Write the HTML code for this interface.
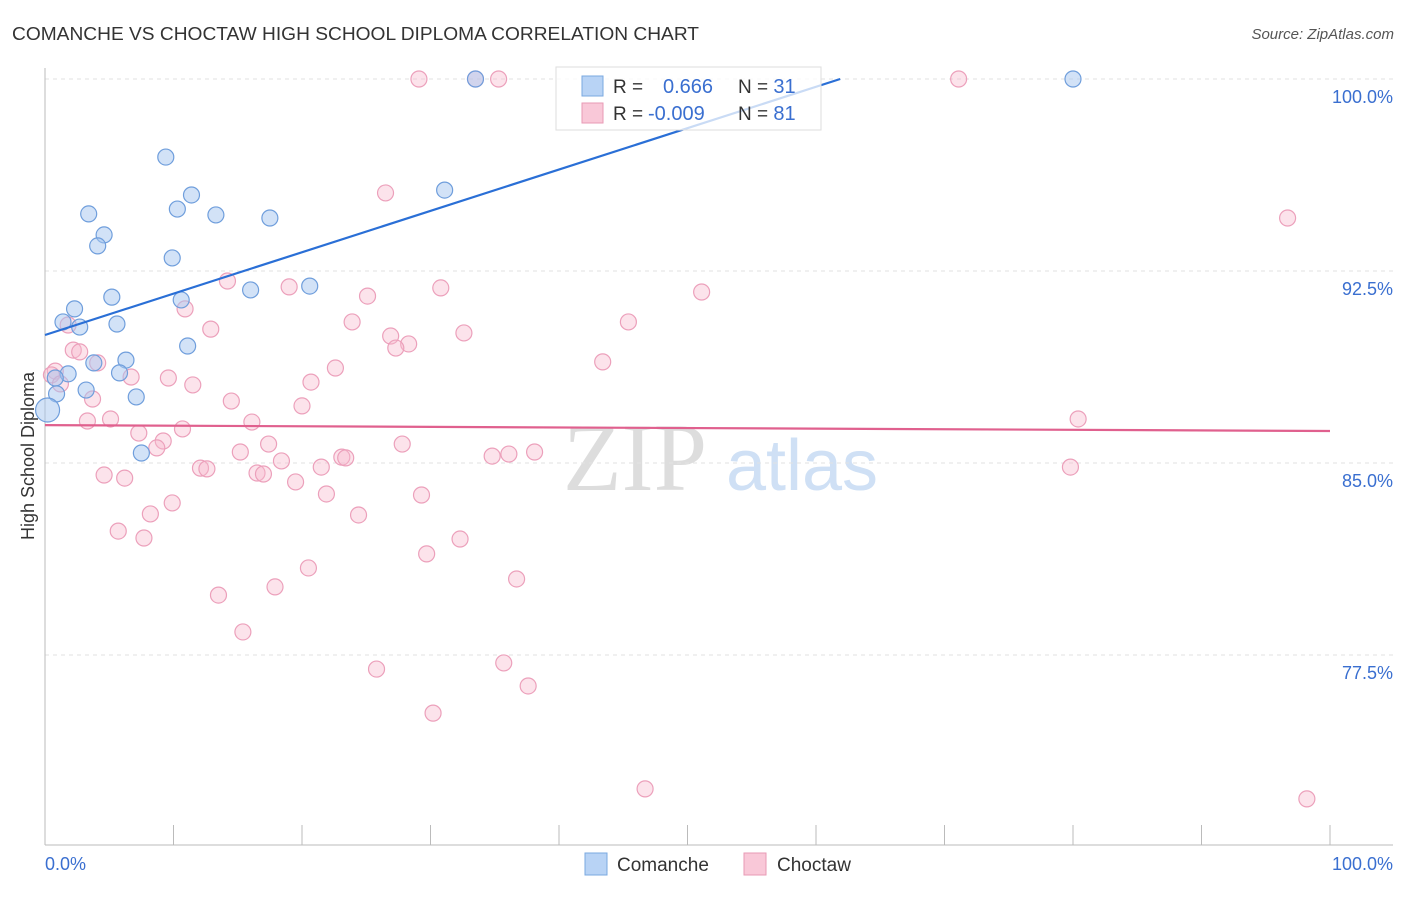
<!DOCTYPE html>
<html><head><meta charset="utf-8"><style>
body{margin:0;background:#fff;font-family:"Liberation Sans",sans-serif;}
</style></head><body>
<svg width="1406" height="892" xmlns="http://www.w3.org/2000/svg" id="chart">
<text x="12" y="40" font-size="18" fill="#333" textLength="687" lengthAdjust="spacingAndGlyphs">COMANCHE VS CHOCTAW HIGH SCHOOL DIPLOMA CORRELATION CHART</text>
<text x="1394" y="39" font-size="15" fill="#555" font-style="italic" text-anchor="end">Source: ZipAtlas.com</text>
<text x="635" y="490" font-size="96" fill="#ddd" font-family="Liberation Serif,serif" text-anchor="middle">ZIP</text>
<text x="802" y="490" font-size="72" fill="#cfe0f5" text-anchor="middle">atlas</text>
<text transform="translate(34,456) rotate(-90)" font-size="18" fill="#333" text-anchor="middle">High School Diploma</text>
<g id="grid"></g><g id="axes"></g><g id="marks"></g>
<g>
<rect x="556" y="67" width="265" height="63" fill="#fff" fill-opacity="0.75" stroke="#ddd"/>
<rect x="582" y="76" width="21" height="20" fill="#b8d3f5" stroke="#7aa8e0"/>
<rect x="582" y="103" width="21" height="20" fill="#f9c8d8" stroke="#e89ab5"/>
<text x="613" y="93" font-size="19" fill="#333">R =</text>
<text x="663" y="93" font-size="20" fill="#3a6fd0">0.666</text>
<text x="738" y="93" font-size="19" fill="#333">N = <tspan fill="#3a6fd0" font-size="20">31</tspan></text>
<text x="613" y="120" font-size="19" fill="#333">R =</text>
<text x="648" y="120" font-size="20" fill="#3a6fd0">-0.009</text>
<text x="738" y="120" font-size="19" fill="#333">N = <tspan fill="#3a6fd0" font-size="20">81</tspan></text>
</g>
<g>
<rect x="585" y="853" width="22" height="22" fill="#b8d3f5" stroke="#7aa8e0"/>
<text x="617" y="871" font-size="19" fill="#333">Comanche</text>
<rect x="744" y="853" width="22" height="22" fill="#f9c8d8" stroke="#e89ab5"/>
<text x="777" y="871" font-size="19" fill="#333">Choctaw</text>
</g>
</svg>
<script>
const yTicks=[100,92.5,85,77.5];
const yTickLabels=["100.0%","92.5%","85.0%","77.5%"];
const xTickLabels=["0.0%","100.0%"];
const comancheX=[33.5,80.0,9.4,11.4,31.1,10.3,3.4,13.3,17.5,4.6,4.1,9.9,16.0,20.6,5.2,10.6,2.3,1.4,2.7,5.6,11.1,6.3,3.8,5.8,1.8,0.8,3.2,0.9,7.1,7.5,0.2];
const comancheY=[100,100,96.95,95.47,95.66,94.92,94.73,94.69,94.57,93.91,93.48,93.01,91.76,91.91,91.48,91.37,91.02,90.51,90.31,90.43,89.57,89.02,88.91,88.52,88.48,88.32,87.85,87.70,87.58,85.39,87.07];
const choctawX=[29.1,35.3,33.5,71.1,26.5,96.7,14.2,19.0,25.1,30.8,51.1,10.9,23.9,45.4,12.9,26.9,32.6,28.3,27.3,1.8,2.2,2.7,4.1,43.4,22.6,0.8,0.5,6.7,9.6,20.7,11.5,1.2,3.7,14.5,20.0,3.3,5.1,16.1,80.4,7.3,10.7,9.2,8.7,17.4,27.8,15.2,23.1,23.4,38.1,36.1,34.8,18.4,21.5,12.1,12.6,16.5,17.0,4.6,6.2,19.5,79.8,21.9,29.3,9.9,8.2,24.4,5.7,7.7,32.3,29.7,20.5,36.7,17.9,13.5,15.4,25.8,35.7,37.6,30.2,46.7,98.2];
const choctawY=[100,100,100,100,95.55,94.57,92.11,91.88,91.52,91.84,91.68,91.02,90.51,90.51,90.23,89.96,90.08,89.65,89.49,90.39,89.41,89.34,88.91,88.95,88.71,88.59,88.44,88.36,88.32,88.16,88.05,88.09,87.50,87.42,87.23,86.64,86.72,86.60,86.72,86.17,86.33,85.86,85.59,85.74,85.74,85.43,85.23,85.20,85.43,85.35,85.27,85.08,84.84,84.80,84.77,84.61,84.57,84.53,84.41,84.26,84.84,83.79,83.75,83.44,83.01,82.97,82.34,82.07,82.03,81.45,80.90,80.47,80.16,79.84,78.40,76.95,77.19,76.29,75.23,72.27,71.88];
const comancheTrend=[90.0,0.1616];
const choctawTrend=[86.48,86.25];
const NS="http://www.w3.org/2000/svg";
const sx=v=>45+v*12.85, sy=v=>79+(100-v)*25.6;
function mk(p,t,a){const e=document.createElementNS(NS,t);for(const k in a)e.setAttribute(k,a[k]);p.appendChild(e);return e;}
const grid=document.getElementById('grid'),axes=document.getElementById('axes'),marks=document.getElementById('marks');
yTicks.forEach((v,i)=>{
 const l=mk(grid,'line',{x1:45,x2:1393,y1:sy(v),y2:sy(v),stroke:'#e2e2e2','stroke-dasharray':'4,4'});
 
 
 const t=mk(axes,'text',{x:1393,y:sy(v)+24,'font-size':18,fill:'#3a6fd0','text-anchor':'end'});t.textContent=yTickLabels[i];
 
 
});
mk(axes,'line',{x1:45,x2:45,y1:68,y2:845,stroke:'#bbb'});
mk(axes,'line',{x1:45,x2:1393,y1:845,y2:845,stroke:'#bbb'});
for(let i=0;i<=10;i++){const l=mk(axes,'line',{x1:sx(i*10),x2:sx(i*10),y1:825,y2:845,stroke:'#bbb'});
 
 }
[[0,'start',45],[1,'end',1393]].forEach(([i,a,x])=>{const t=mk(axes,'text',{x:x,y:870,'font-size':18,fill:'#3a6fd0','text-anchor':a});t.textContent=xTickLabels[i];
 
 });
choctawX.forEach((x,i)=>{const c=mk(marks,'circle',{cx:sx(x),cy:sy(choctawY[i]),r:8,fill:'rgba(247,185,205,0.4)',stroke:'#eca0bb','stroke-width':1.2});
 
 });
comancheX.forEach((x,i)=>{const c=mk(marks,'circle',{cx:sx(x),cy:sy(comancheY[i]),r:i==30?12:8,fill:'rgba(165,198,240,0.5)',stroke:'#6f9edc','stroke-width':1.2});
 
 });
const xEnd=(100-comancheTrend[0])/comancheTrend[1];
const bl=mk(marks,'line',{x1:sx(0),y1:sy(comancheTrend[0]),x2:sx(xEnd),y2:sy(100),stroke:'#2a6fd6','stroke-width':2.2});


const pl=mk(marks,'line',{x1:sx(0),y1:sy(choctawTrend[0]),x2:sx(100),y2:sy(choctawTrend[1]),stroke:'#e0608e','stroke-width':2.2});


</script>
</body></html>
